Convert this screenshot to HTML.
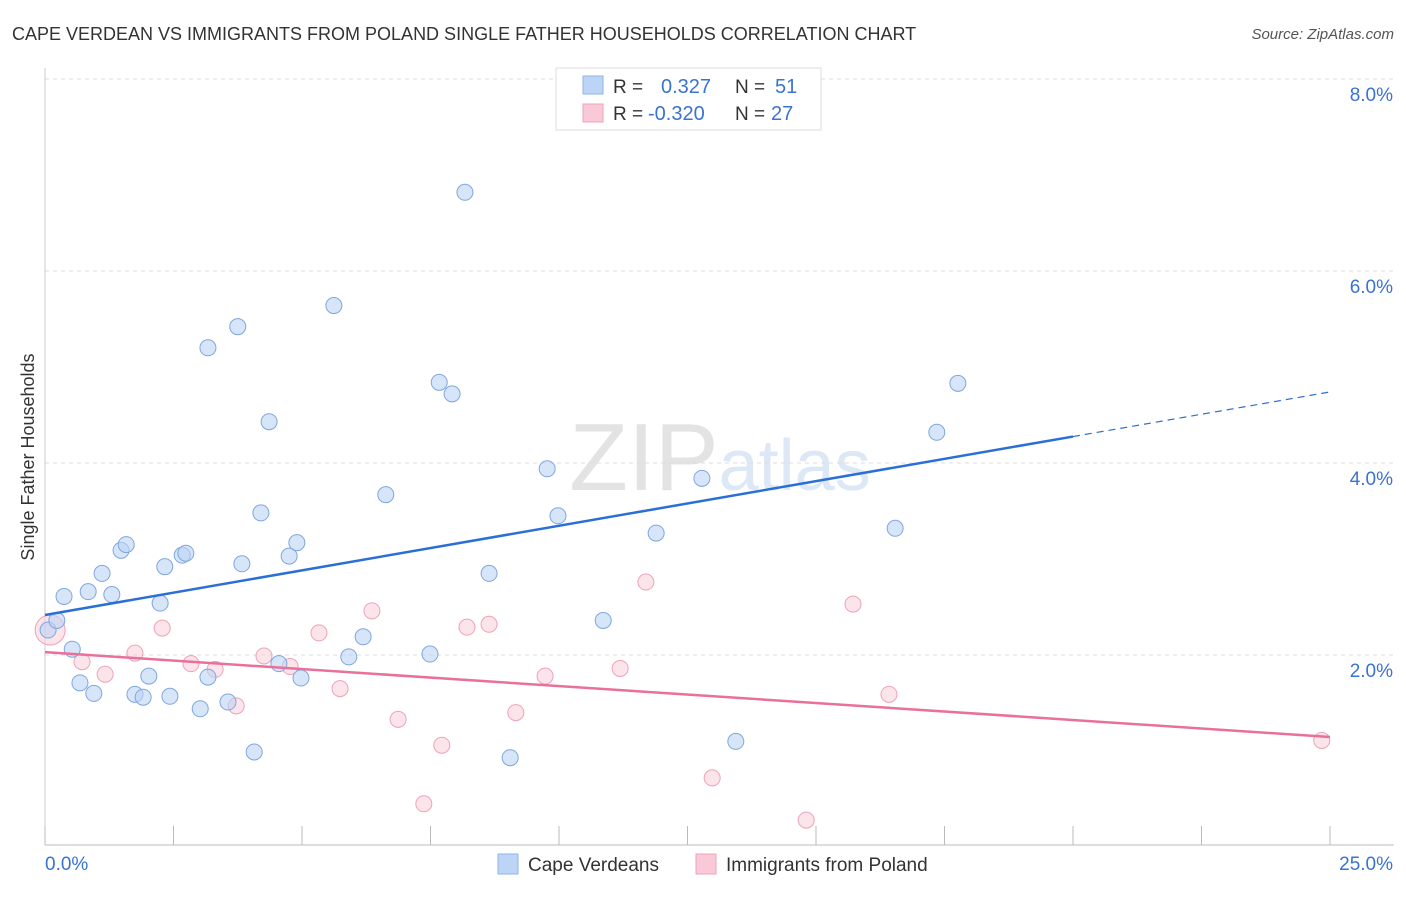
<!DOCTYPE html>
<html><head><meta charset="utf-8"><style>
body{margin:0;background:#fff;font-family:"Liberation Sans",sans-serif;}
svg text{font-family:"Liberation Sans",sans-serif;}
</style></head><body>
<svg id="chart" width="1406" height="892" xmlns="http://www.w3.org/2000/svg">
<text x="12" y="40" font-size="18" fill="#333">CAPE VERDEAN VS IMMIGRANTS FROM POLAND SINGLE FATHER HOUSEHOLDS CORRELATION CHART</text>
<text x="1394" y="39" font-size="15" fill="#555" text-anchor="end" font-style="italic">Source: ZipAtlas.com</text>
<text x="720" y="490" font-size="96" fill="#e6e6e6" text-anchor="middle" font-family="Liberation Serif"><tspan fill="#e3e3e3">ZIP</tspan><tspan fill="#dce8f6" font-family="Liberation Sans" font-size="72">atlas</tspan></text>
<text transform="translate(34,457) rotate(-90)" font-size="18" fill="#333" text-anchor="middle">Single Father Households</text>
<g id="grid"></g><g id="axes"></g><g id="marks"></g>
<g>
<rect x="556" y="68" width="265" height="62" fill="#fff" stroke="#ddd"/>
<rect x="583" y="76" width="20" height="18" fill="#bcd4f5" stroke="#8fb3e6"/>
<rect x="583" y="104" width="20" height="18" fill="#f9c9d7" stroke="#eea2b8"/>
<text x="613" y="93" font-size="19" fill="#333">R = </text><text x="661" y="93" font-size="20" fill="#3a73d0">0.327</text>
<text x="735" y="93" font-size="19" fill="#333">N = </text><text x="775" y="93" font-size="20" fill="#3a73d0">51</text>
<text x="613" y="120" font-size="19" fill="#333">R = </text><text x="648" y="120" font-size="20" fill="#3a73d0">-0.320</text>
<text x="735" y="120" font-size="19" fill="#333">N = </text><text x="771" y="120" font-size="20" fill="#3a73d0">27</text>
</g>
<g>
<rect x="498" y="854" width="20" height="20" fill="#bcd4f5" stroke="#8fb3e6"/>
<text x="528" y="871" font-size="19" fill="#333">Cape Verdeans</text>
<rect x="696" y="854" width="20" height="20" fill="#f9c9d7" stroke="#eea2b8"/>
<text x="726" y="871" font-size="19" fill="#333">Immigrants from Poland</text>
</g>
</svg>
<script>
const blueX=[0.06,0.23,0.37,0.53,0.68,0.84,0.95,1.11,1.30,1.48,1.58,1.75,1.91,2.02,2.24,2.33,2.43,2.67,2.74,3.02,3.17,3.17,3.56,3.75,3.83,4.07,4.20,4.36,4.55,4.75,4.90,4.98,5.62,5.91,6.19,6.63,7.49,7.67,7.92,8.17,8.64,9.05,9.77,9.98,10.86,11.89,12.78,13.44,16.54,17.35,17.76];
const blueY=[2.26,2.36,2.61,2.06,1.71,2.66,1.60,2.85,2.63,3.09,3.15,1.59,1.56,1.78,2.54,2.92,1.57,3.04,3.06,1.44,5.20,1.77,1.51,5.42,2.95,0.99,3.48,4.43,1.91,3.03,3.17,1.76,5.64,1.98,2.19,3.67,2.01,4.84,4.72,6.82,2.85,0.93,3.94,3.45,2.36,3.27,3.84,1.10,3.32,4.32,4.83];
const pinkX=[0.10,0.72,1.17,1.75,2.28,2.84,3.31,3.72,4.26,4.77,5.33,5.74,6.36,6.87,7.37,7.72,8.21,8.64,9.16,9.73,11.19,11.69,12.98,14.81,15.72,16.42,24.84];
const pinkY=[2.26,1.93,1.80,2.02,2.28,1.91,1.85,1.47,1.99,1.88,2.23,1.65,2.46,1.33,0.45,1.06,2.29,2.32,1.40,1.78,1.86,2.76,0.72,0.28,2.53,1.59,1.11];
const yTicks=[2,4,6,8];
const yTickLabels=["2.0%","4.0%","6.0%","8.0%"];
const blueTrend=[2.417,4.74];
const pinkTrend=[2.03,1.146];
const X=v=>45+v*51.4, Y=v=>847-v*96;
const ns="http://www.w3.org/2000/svg";
function mk(t,a,p){const e=document.createElementNS(ns,t);for(const k in a)e.setAttribute(k,a[k]);p.appendChild(e);return e;}
const grid=document.getElementById('grid'),axes=document.getElementById('axes'),marks=document.getElementById('marks');
yTicks.forEach((t,i)=>{
 const l=mk('line',{x1:45,x2:1394,y1:Y(t),y2:Y(t),stroke:'#ddd','stroke-dasharray':'4,4'},grid);
 
 
 const tx=mk('text',{x:1393,y:Y(t)+22,'font-size':19,fill:'#3a73d0','text-anchor':'end'},axes);
 tx.textContent=yTickLabels[i];
 
 
});
const ax=mk('line',{x1:45,x2:1394,y1:845,y2:845,stroke:'#bbb'},axes);


const ay=mk('line',{x1:45,x2:45,y1:68,y2:845,stroke:'#ccc'},axes);


for(let i=0;i<=10;i++){const t=mk('line',{x1:X(i*2.5),x2:X(i*2.5),y1:826,y2:845,stroke:'#bbb'},axes);
 
 }
const xl0=mk('text',{x:45,y:870,'font-size':19,fill:'#3a73d0'},axes);xl0.textContent='0.0%';


const xl1=mk('text',{x:1393,y:870,'font-size':19,fill:'#3a73d0','text-anchor':'end'},axes);xl1.textContent='25.0%';


pinkX.forEach((x,i)=>{const c=mk('circle',{cx:X(x),cy:Y(pinkY[i]),r:i===0?15:8,fill:'rgba(249,201,215,0.5)',stroke:'#eea2b8','stroke-width':1},marks);
 
 });
blueX.forEach((x,i)=>{const c=mk('circle',{cx:X(x),cy:Y(blueY[i]),r:8,fill:'rgba(188,212,245,0.6)',stroke:'#7fa6df','stroke-width':1},marks);
 
 });
const bs=blueTrend[0],be=blueTrend[1],xm=20;
const bm=bs+(be-bs)*xm/25;
const b1=mk('line',{x1:X(0),y1:Y(bs),x2:X(xm),y2:Y(bm),stroke:'#2a6fd6','stroke-width':2.5},marks);


const b2=mk('line',{x1:X(xm),y1:Y(bm),x2:X(25),y2:Y(be),stroke:'#2a6fd6','stroke-width':1.2,'stroke-dasharray':'7,5'},marks);


const p1=mk('line',{x1:X(0),y1:Y(pinkTrend[0]),x2:X(25),y2:Y(pinkTrend[1]),stroke:'#e8709a','stroke-width':2.5},marks);


</script>
</body></html>
